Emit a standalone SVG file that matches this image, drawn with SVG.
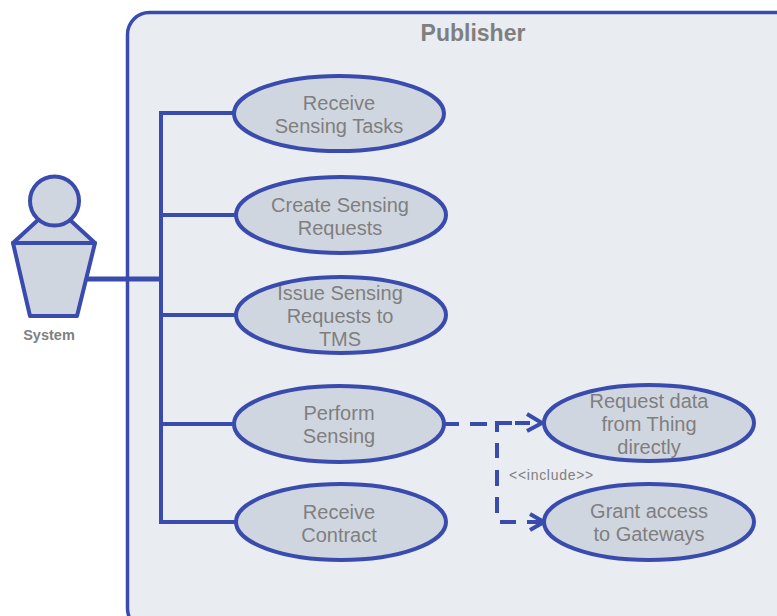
<svg xmlns="http://www.w3.org/2000/svg" width="777" height="616" viewBox="0 0 777 616">
<style>
.u{fill:#d0d6df;stroke:#3a4bae;stroke-width:4;stroke-linejoin:round}
.t{font-family:"Liberation Sans",Arial,sans-serif;font-size:20px;fill:#7f7f7f;text-anchor:middle}
.c{fill:none;stroke:#3a4bae;stroke-width:4}
.d{fill:none;stroke:#3a4bae;stroke-width:4}
</style>
<rect width="777" height="616" fill="#fff"/>
<g id="publisher">
<rect x="127.500" y="12.500" width="700" height="618" rx="22" fill="#e9ecf0" stroke="#3a4bae" stroke-width="3.500"/>
<text x="473" y="41" text-anchor="middle" font-family="Liberation Sans,Arial,sans-serif" font-size="23" font-weight="bold" fill="#7f7f7f">Publisher</text>
</g>
<g id="connectors">
<path class="c" d="M234 113H161V522H236M161 215H236M161 315H236M161 424H234"/>
<path class="c" style="stroke-width:5" d="M87 279H161"/>
<path class="d" d="M444 424H459M470 424H487M495 423H512M515 423H530M497 421V432M497 443V458M497 470V486M497 497V513M500 522H516M527 522H543"/>
<path class="c" d="M527 414L542 423L527 431M530 514L544 522L530 530" style="stroke-linejoin:round"/>
<text x="551.500" y="480" text-anchor="middle" font-family="Liberation Sans,Arial,sans-serif" font-size="14" letter-spacing="0.700" fill="#7f7f7f">&lt;&lt;include&gt;&gt;</text>
</g>
<g id="actor">
<path class="u" d="M38 220L13 243H95L70 220Z"/>
<path class="u" d="M13 243H95L77 316H30Z"/>
<circle class="u" cx="54.500" cy="201" r="24.500"/>
<text x="49" y="340" text-anchor="middle" font-family="Liberation Sans,Arial,sans-serif" font-size="14.500" font-weight="bold" fill="#7f7f7f">System</text>
</g>
<g id="receive-tasks"><ellipse class="u" cx="339" cy="113.500" rx="105" ry="37.500"/><text class="t" x="339" y="110">Receive</text><text class="t" x="339" y="133">Sensing Tasks</text></g>
<g id="create-requests"><ellipse class="u" cx="341" cy="215" rx="105" ry="38"/><text class="t" x="340" y="212">Create Sensing</text><text class="t" x="340" y="235">Requests</text></g>
<g id="issue-requests"><ellipse class="u" cx="341" cy="315" rx="105" ry="38"/><text class="t" x="340" y="300">Issue Sensing</text><text class="t" x="340" y="323">Requests to</text><text class="t" x="340" y="346">TMS</text></g>
<g id="perform-sensing"><ellipse class="u" cx="339" cy="424" rx="105" ry="38"/><text class="t" x="339" y="420">Perform</text><text class="t" x="339" y="443">Sensing</text></g>
<g id="receive-contract"><ellipse class="u" cx="341" cy="522" rx="105" ry="38"/><text class="t" x="339" y="519">Receive</text><text class="t" x="339" y="542">Contract</text></g>
<g id="request-data"><ellipse class="u" cx="649" cy="423" rx="105" ry="38"/><text class="t" x="649" y="408">Request data</text><text class="t" x="649" y="431">from Thing</text><text class="t" x="649" y="454">directly</text></g>
<g id="grant-access"><ellipse class="u" cx="649" cy="522" rx="105" ry="38"/><text class="t" x="649" y="518">Grant access</text><text class="t" x="649" y="541">to Gateways</text></g>
</svg>
